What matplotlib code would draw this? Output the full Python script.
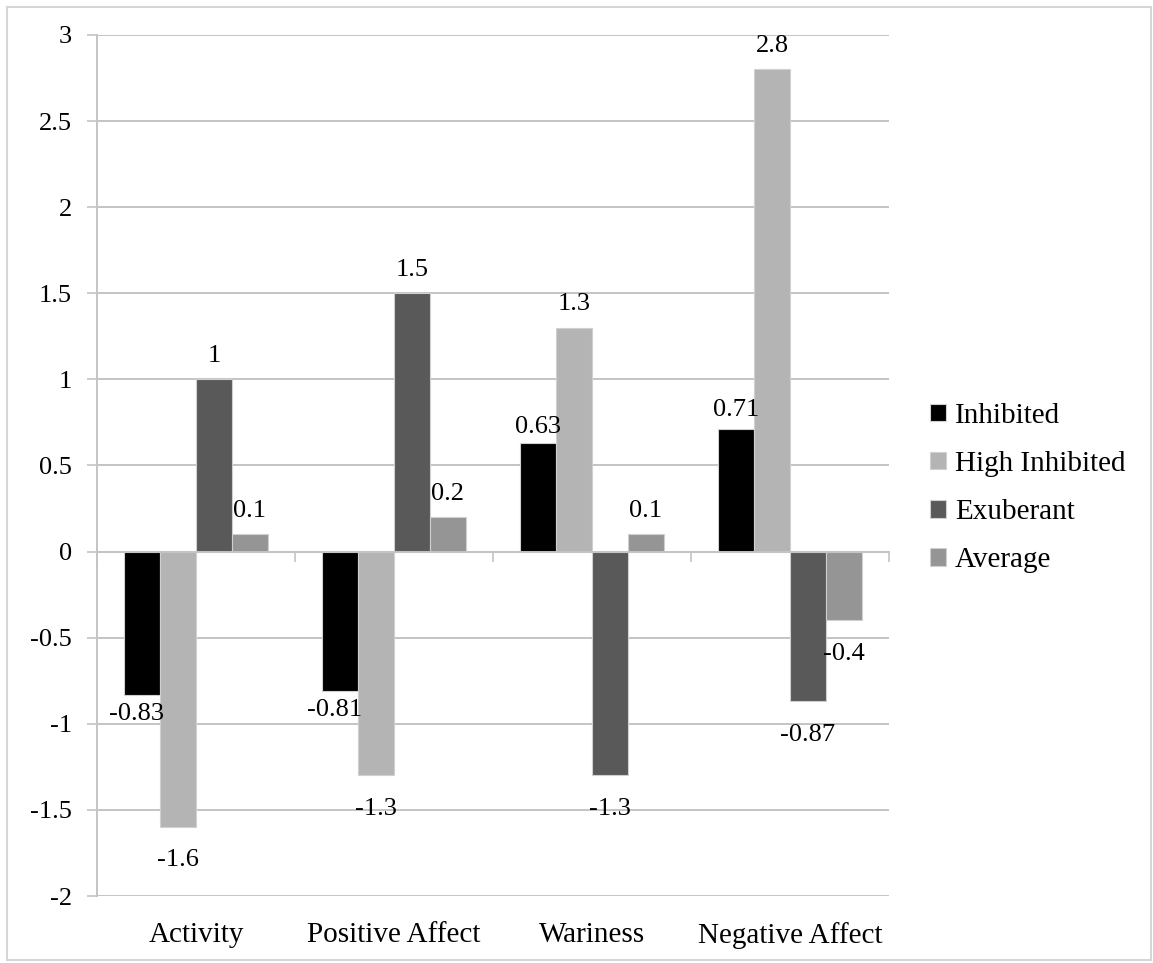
import matplotlib
matplotlib.use("Agg")
import numpy as np
from matplotlib import pyplot as plt
from matplotlib.patches import Patch, Rectangle

categories = ["Activity", "Positive Affect", "Wariness", "Negative Affect"]
series_names = ["Inhibited", "High Inhibited", "Exuberant", "Average"]
inhibited = [-0.83, -0.81, 0.63, 0.71]
high_inhibited = [-1.6, -1.3, 1.3, 2.8]
exuberant = [1.0, 1.5, -1.3, -0.87]
average = [0.1, 0.2, 0.1, -0.4]
label_text = [
    ["-0.83", "-0.81", "0.63", "0.71"],
    ["-1.6", "-1.3", "1.3", "2.8"],
    ["1", "1.5", "-1.3", "-0.87"],
    ["0.1", "0.2", "0.1", "-0.4"],
]
colors = ["#000000", "#b4b4b4", "#595959", "#959595"]
y_ticks = [-2, -1.5, -1, -0.5, 0, 0.5, 1, 1.5, 2, 2.5, 3]

# label nudges (points), the Inhibited labels sit closer to their bars
label_dx = [[-4, -4, 0, 0], [0] * 4, [0] * 4, [0] * 4]
label_gap = [[6, 6, 4, 6], [16, 16, 9, 9], [9, 9, 16, 16], [9, 9, 9, 16]]

plt.rcParams["font.family"] = ["Liberation Serif", "DejaVu Serif"]
grid_color = "#c4c4c4"
FS = 19       # tick and data labels
FS_BIG = 21   # category names and legend

fig = plt.figure(figsize=(11.53, 9.63), dpi=100)
ax = fig.add_axes([97 / 1153, 1 - 896 / 963, (889 - 97) / 1153, (896 - 35) / 963])

x = np.arange(len(categories))
width = 1 / 5.5
all_series = [inhibited, high_inhibited, exuberant, average]
for i, (vals, col) in enumerate(zip(all_series, colors)):
    pos = x + (i - 1.5) * width
    bars = ax.bar(pos, vals, width, color=col, edgecolor="#d0d0d0", linewidth=0.8,
                  zorder=3, label=series_names[i])
    for j, (b, v, t) in enumerate(zip(bars, vals, label_text[i])):
        cx = b.get_x() + b.get_width() / 2
        dx, gap = label_dx[i][j], label_gap[i][j]
        if v >= 0:
            ax.annotate(t, (cx, v), xytext=(dx, gap), textcoords="offset points",
                        ha="center", va="bottom", fontsize=FS, zorder=5)
        else:
            ax.annotate(t, (cx, v), xytext=(dx, -gap), textcoords="offset points",
                        ha="center", va="top", fontsize=FS, zorder=5)

ax.set_xlim(-0.5, len(categories) - 0.5)
ax.set_ylim(-2, 3)
ax.set_yticks(y_ticks)
ax.set_yticklabels([f"{v:g}" for v in y_ticks])
ax.yaxis.grid(True, color=grid_color, linewidth=1.4, zorder=0)
ax.set_axisbelow(True)
ax.tick_params(axis="y", length=7, width=1.2, color=grid_color, pad=11, labelsize=FS)
ax.set_xticks(x)
ax.set_xticklabels(categories)
ax.tick_params(axis="x", length=0, pad=19, labelsize=FS_BIG)
for side in ["top", "right", "bottom"]:
    ax.spines[side].set_visible(False)
ax.spines["left"].set_color(grid_color)
ax.spines["left"].set_linewidth(1.4)

# category axis drawn at zero
sec = ax.secondary_xaxis(2 / 5)
sec.set_xticks(np.arange(len(categories) + 1) - 0.5)
sec.set_xticklabels([])
sec.tick_params(axis="x", direction="out", length=7, width=1.2, color=grid_color)
sec.spines["bottom"].set_color(grid_color)
sec.spines["bottom"].set_linewidth(1.4)
sec.set_zorder(4)

handles = [Patch(facecolor=c, edgecolor="#d0d0d0", linewidth=0.8) for c in colors]
fig.legend(handles, series_names, loc="center left",
           bbox_to_anchor=(930 / 1153, 1 - 488 / 963), frameon=False,
           fontsize=FS_BIG, handlelength=0.55, handleheight=0.55, handletextpad=0.3,
           labelspacing=0.76, borderpad=0, borderaxespad=0)

fig.patches.append(Rectangle((7 / 1153, 3 / 963), 1144 / 1153, 953 / 963,
                             transform=fig.transFigure, fill=False,
                             edgecolor="#d6d6d6", linewidth=1.5))

fig.savefig("out.png", dpi=100)
